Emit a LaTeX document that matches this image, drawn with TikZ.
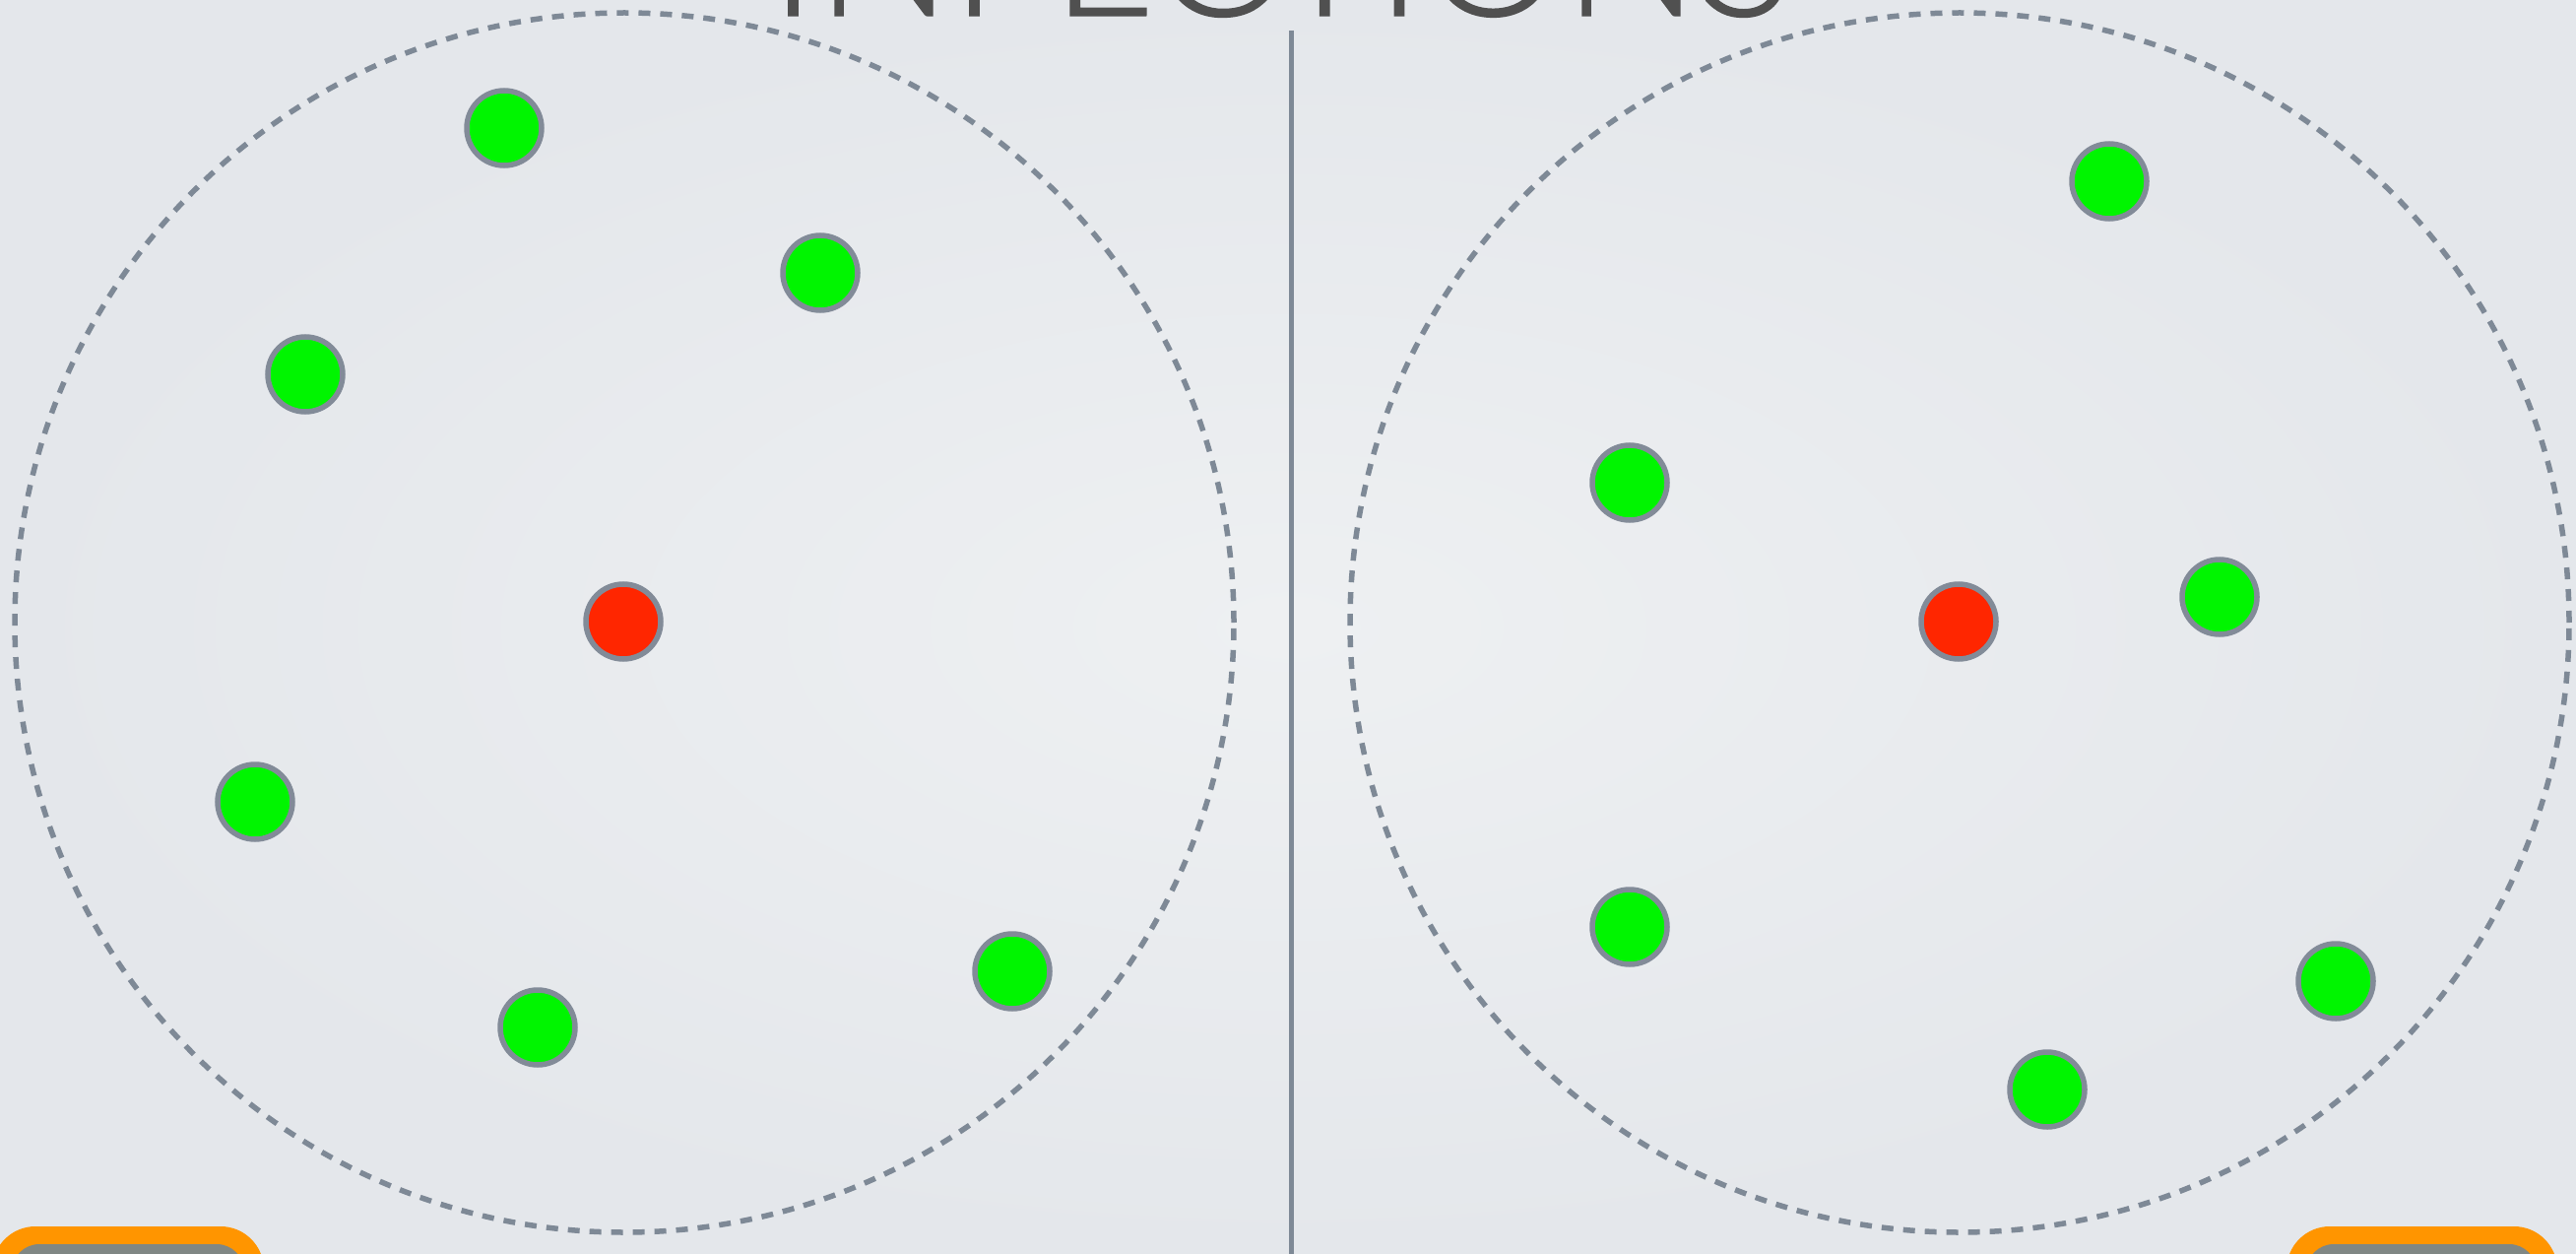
\documentclass[tikz,border=0pt]{standalone}
\usepackage{fontspec}
\newfontfamily\titlefont{Lato Light}[FakeBold=0.8]
\definecolor{bgin}{RGB}{238,240,242}
\definecolor{bgout}{RGB}{228,231,235}
\definecolor{ringgray}{RGB}{126,137,150}
\definecolor{dotborder}{RGB}{130,139,152}
\definecolor{dotgreen}{RGB}{0,245,0}
\definecolor{dotred}{RGB}{255,38,0}
\definecolor{titlegray}{RGB}{80,80,80}
\definecolor{boxorange}{RGB}{255,149,0}
\definecolor{boxgray}{RGB}{128,135,132}
\tikzset{
  dot/.style={circle, draw=dotborder, line width=5.5pt, minimum size=76pt, inner sep=0pt},
  gdot/.style={dot, fill=dotgreen},
  rdot/.style={dot, fill=dotred},
  dashring/.style={draw=ringgray, line width=5.5pt, dash pattern=on 12pt off 10pt},
  divider/.style={draw=ringgray, line width=5pt},
}
\begin{document}
\begin{tikzpicture}[x=1pt,y=-1pt]
\useasboundingbox (0,0) rectangle (2616,1273);
\clip (0,0) rectangle (2616,1273);
\shade[inner color=bgin, outer color=bgout] (0,0) rectangle (2616,1273);
% title
\node[anchor=base, inner sep=0pt, text=titlegray, font=\titlefont\fontsize{181}{190}\selectfont] (title) at (1301.5,16) {INFECTIONS};
% divider
\coordinate (dtop) at (1311,31);
\coordinate (dbot) at (1311,1280);
\draw[divider] (dtop) -- (dbot);
% dashed rings
\node[circle, dashring, minimum size=1238pt, inner sep=0pt] (lring) at (634,632) {};
\node[circle, dashring, minimum size=1238pt, inner sep=0pt] (rring) at (1990,632) {};
% left dots
\node[gdot] (l1) at (512,130) {};
\node[gdot] (l2) at (833,277) {};
\node[gdot] (l3) at (310,380) {};
\node[rdot] (l4) at (633,631) {};
\node[gdot] (l5) at (259,814) {};
\node[gdot] (l6) at (1028,986) {};
\node[gdot] (l7) at (546,1043) {};
% right dots
\node[gdot] (r1) at (2142,184) {};
\node[gdot] (r2) at (1655,490) {};
\node[rdot] (r3) at (1989,631) {};
\node[gdot] (r4) at (2254,606) {};
\node[gdot] (r5) at (1655,941) {};
\node[gdot] (r6) at (2372,996) {};
\node[gdot] (r7) at (2079,1106) {};
% bottom buttons
\fill[boxorange, rounded corners=44pt] (-8,1245) rectangle (268,1360);
\fill[boxgray, rounded corners=28pt] (12,1263) rectangle (248,1360);
\fill[boxorange, rounded corners=44pt] (2322,1245) rectangle (2597,1360);
\fill[boxgray, rounded corners=28pt] (2342,1263) rectangle (2576,1360);
\end{tikzpicture}
\end{document}
